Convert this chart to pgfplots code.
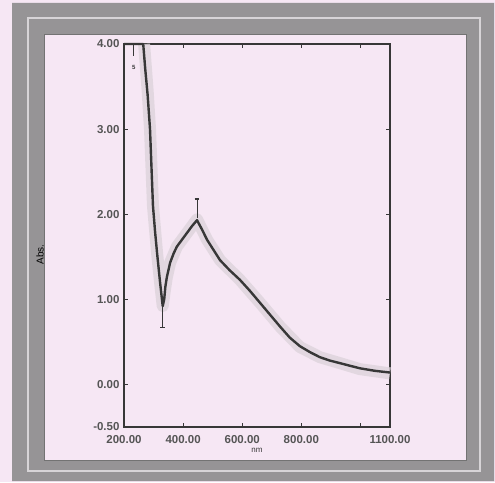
\documentclass[border=0pt]{standalone}
\usepackage{fontspec}
\setmainfont{Liberation Sans}
\usepackage{pgfplots}
\pgfplotsset{compat=1.18}
\definecolor{bgpink}{RGB}{246,231,244}
\definecolor{framegray}{RGB}{150,148,150}
\definecolor{framelight}{RGB}{215,212,215}
\definecolor{inkdark}{RGB}{55,55,55}
\definecolor{halo}{RGB}{222,212,220}

\begin{document}
\begin{tikzpicture}
\useasboundingbox (0pt,0pt) rectangle (495pt,482pt);
\fill[bgpink] (0pt,0pt) rectangle (495pt,482pt);
% scanned frame
\fill[framegray, even odd rule] (12pt,1pt) rectangle (494pt,479pt) (44pt,22pt) rectangle (466pt,447pt);
\draw[framelight, line width=2.5pt] (28pt,11pt) rectangle (480pt,464pt);
\draw[inkdark!70, line width=1pt] (44pt,22pt) rectangle (466pt,447pt);

\begin{axis}[
  at={(124pt,55pt)}, anchor=south west,
  scale only axis, width=266pt, height=383pt,
  xmin=200, xmax=1100, ymin=-0.5, ymax=4,
  axis line style={draw=inkdark, line width=1.6pt},
  tick style={draw=inkdark, line width=1pt},
  major tick length=4pt,
  tick align=inside,
  xtick={200,400,600,800,1000,1100},
  xticklabels={200.00,400.00,600.00,800.00,,1100.00},
  ytick={-0.5,0,1,2,3,4},
  yticklabels={-0.50,0.00,1.00,2.00,3.00,4.00},
  tick label style={font=\fontsize{11.5}{13}\selectfont\bfseries, text=inkdark!85},
  xticklabel style={yshift=-5pt},
  yticklabel style={xshift=-1pt},
  xlabel={nm}, ylabel={Abs.},
  xlabel style={font=\fontsize{8}{9}\selectfont, text=inkdark, yshift=2pt},
  ylabel style={font=\fontsize{8.5}{10}\selectfont\bfseries, text=inkdark},
  every axis y label/.style={at={(-84pt,0.45)}, rotate=90, anchor=center},
  clip=false,
]
\addplot[halo, line width=12pt, opacity=0.8, line join=round] coordinates {
(268,4.0) (280,3.45) (288,3.0) (298,2.1) (312,1.54) (322,1.2) (331,0.92)
(338,1.1) (345,1.26) (356,1.43) (379,1.62) (413,1.78) (447,1.94)
(481,1.70) (525,1.46) (592,1.23) (660,0.96) (728,0.68) (795,0.44)
(863,0.32) (931,0.25) (998,0.18) (1100,0.13)};
\addplot[inkdark, line width=2.4pt, line join=round] coordinates {
(200,4.0) (265,4.0) (272,3.7) (280,3.4) (288,3.0) (293,2.55) (298,2.1)
(305,1.8) (312,1.54) (322,1.2) (331,0.92) (336,1.0) (340,1.15)
(345,1.26) (356,1.43) (368,1.54) (379,1.62) (396,1.70) (413,1.78)
(430,1.86) (447,1.93) (464,1.82) (481,1.70) (503,1.58) (525,1.46)
(558,1.34) (592,1.23) (626,1.10) (660,0.96) (694,0.82) (728,0.68)
(761,0.55) (795,0.45) (829,0.38) (863,0.32) (897,0.28) (931,0.25)
(964,0.22) (998,0.19) (1049,0.16) (1100,0.14)};
% peak pick markers
\addplot[inkdark, line width=1pt] coordinates {(447,1.95) (447,2.17)};
\addplot[inkdark, line width=1.6pt] coordinates {(439,2.18) (455,2.18)};
\addplot[inkdark, line width=1pt] coordinates {(330,0.92) (330,0.68)};
\addplot[inkdark, line width=1.6pt] coordinates {(322,0.67) (338,0.67)};
\addplot[inkdark, line width=0.8pt] coordinates {(231,4.0) (231,3.86)};
\node[font=\fontsize{6}{7}\selectfont\bfseries, text=inkdark] at (axis cs:233,3.72) {5};
\end{axis}
\end{tikzpicture}
\end{document}
